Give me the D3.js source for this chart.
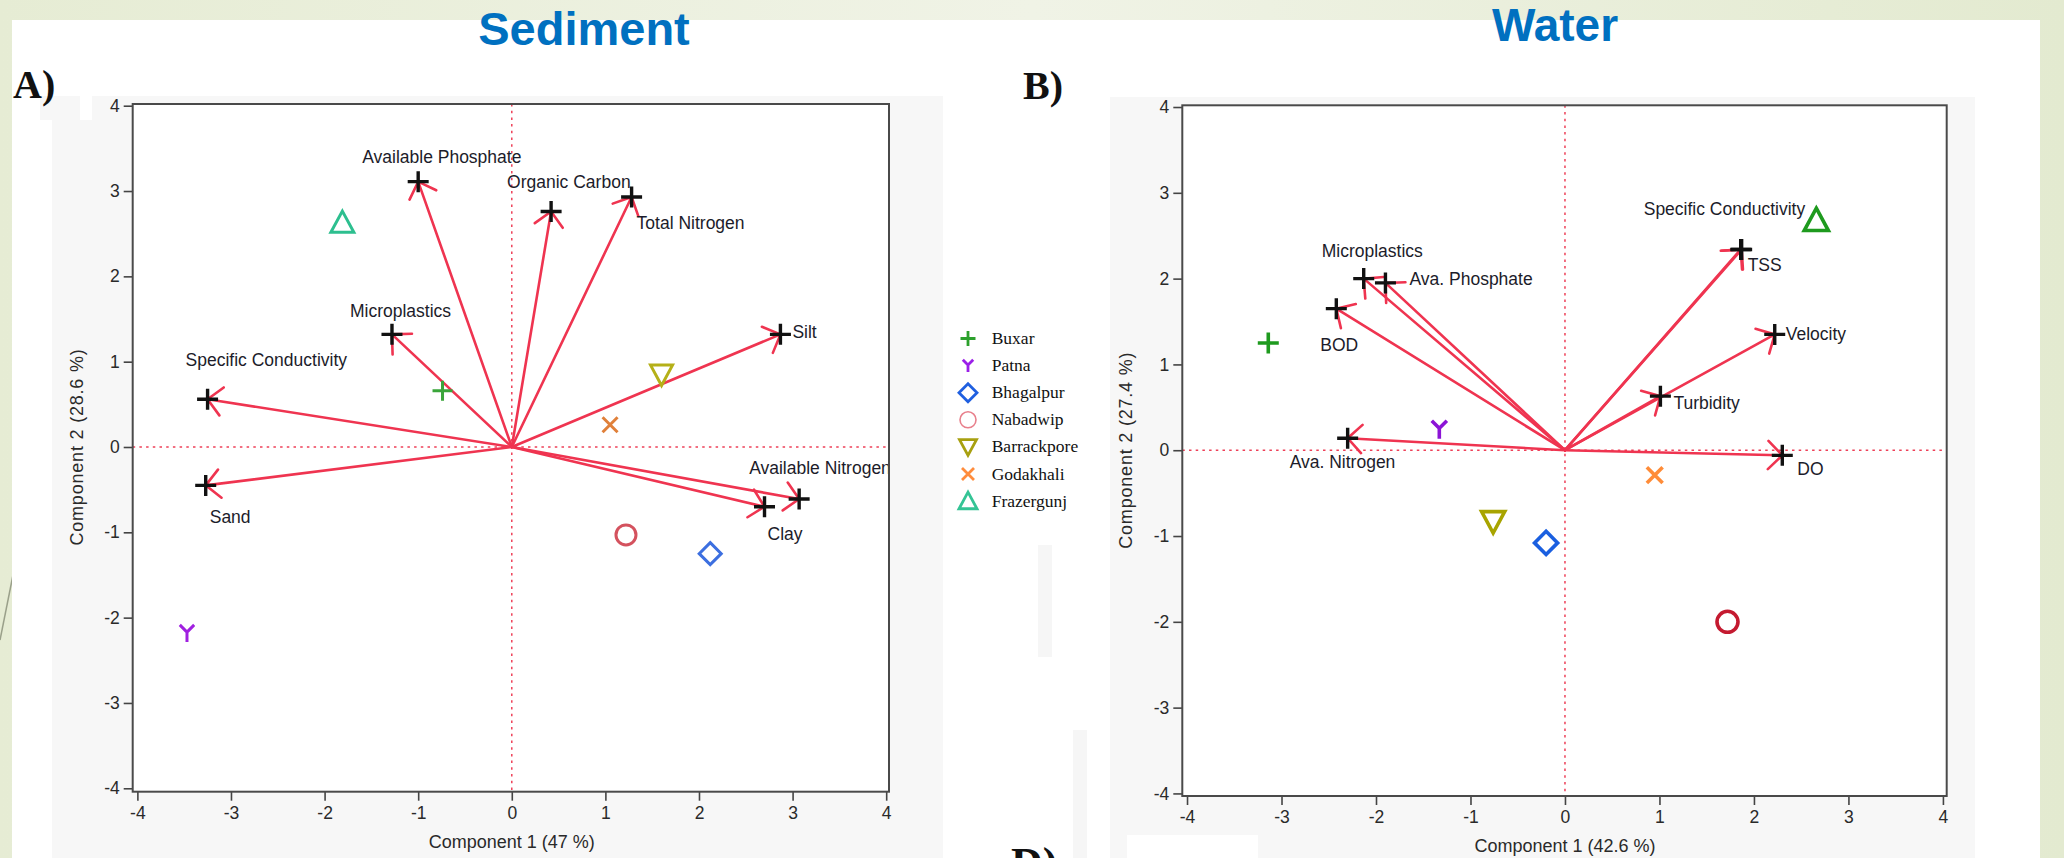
<!DOCTYPE html>
<html>
<head>
<meta charset="utf-8">
<script src="https://cdn.jsdelivr.net/npm/d3@7/dist/d3.min.js"></script>
<style>
  html, body { margin: 0; padding: 0; background: #e8eed9; overflow: hidden; }
  svg { display: block; }
  .tick text { font-family: "Liberation Sans", Arial, sans-serif; font-size: 17.5px; fill: #2a2a2a; }
  .tick line { stroke: #444; stroke-width: 1.6; }
</style>
</head>
<body>
<div id="chart"></div>
<script>
// sampling sites (shared by both panels)
const sites = ["Buxar", "Patna", "Bhagalpur", "Nabadwip", "Barrackpore", "Godakhali", "Frazergunj"];
const siteShapes = ["plus", "y", "diamond", "circle", "down", "cross", "up"];

// A) sediment PCA
const sedimentVars = ["Available Phosphate", "Organic Carbon", "Total Nitrogen", "Microplastics", "Silt",
                      "Specific Conductivity", "Sand", "Clay", "Available Nitrogen"];
const sedimentVarX = [-1.00, 0.42, 1.28, -1.28, 2.87, -3.25, -3.27, 2.70, 3.07];
const sedimentVarY = [3.11, 2.76, 2.93, 1.32, 1.32, 0.56, -0.45, -0.70, -0.61];
const sedimentSiteX = [-0.74, -3.47, 2.12, 1.22, 1.60, 1.05, -1.81];
const sedimentSiteY = [0.66, -2.18, -1.25, -1.03, 0.85, 0.26, 2.63];
const sedimentVariance = [47, 28.6];

// B) water PCA
const waterVars = ["Microplastics", "Ava. Phosphate", "BOD", "Ava. Nitrogen", "Specific Conductivity",
                   "TSS", "Velocity", "Turbidity", "DO"];
const waterVarX = [-2.13, -1.90, -2.42, -2.30, 1.86, 1.87, 2.22, 1.01, 2.30];
const waterVarY = [2.00, 1.95, 1.65, 0.14, 2.34, 2.34, 1.35, 0.63, -0.06];
const waterSiteX = [-3.14, -1.33, -0.20, 1.72, -0.76, 0.95, 2.66];
const waterSiteY = [1.25, 0.245, -1.08, -2.00, -0.83, -0.29, 2.68];
const waterVariance = [42.6, 27.4];

const axisTicks = [-4, -3, -2, -1, 0, 1, 2, 3, 4];

// layout / style (pixel offsets of the variable labels from the arrow tips)
const sedimentLabelOffsets = [[-56, -19], [-44, -24], [5, 32], [-42, -17], [12, 4], [-22, -33], [4, 38], [3, 33], [-50, -25]];
const waterLabelOffsets = [[-42, -22], [24, 2], [-16, 42], [-58, 30], [-97, -34], [6, 22], [11, 6], [13, 13], [15, 20]];
const sedimentColours = ["#3aa53a", "#a020e0", "#3c6fe0", "#d4525e", "#b5b018", "#e0803a", "#2dbf8f"];
const waterColours = ["#1e9a1e", "#8c14d6", "#1a5fe0", "#c41a30", "#a8a400", "#ff8c38", "#1e9a1e"];
const legendColours = ["#2ca02c", "#9b1fe8", "#1f5fe0", "#e8808c", "#a8a010", "#ff8c3c", "#34c495"];
const markerSize = { plus: 10, y: 9, diamond: 11, circle: 10, down: 11, cross: 7.5, up: 11.5 };
const legendSize = { plus: 7.5, y: 6.5, diamond: 9, circle: 8, down: 8.5, cross: 6, up: 9 };

const W = 2064, H = 858;
const sans = '"Liberation Sans", Arial, sans-serif';
const serif = '"Liberation Serif", "Times New Roman", serif';
const arrowRed = "#ef3450";

const svg = d3.select("#chart").append("svg").attr("width", W).attr("height", H);

// slide background
const defs = svg.append("defs");
const grad = defs.append("linearGradient").attr("id", "band");
grad.append("stop").attr("offset", "0%").attr("stop-color", "#e6ecd4");
grad.append("stop").attr("offset", "50%").attr("stop-color", "#f0f3e6");
grad.append("stop").attr("offset", "100%").attr("stop-color", "#e3ead0");
svg.append("rect").attr("width", W).attr("height", H).attr("fill", "url(#band)");
svg.append("line").attr("x1", 0).attr("y1", 640).attr("x2", 16).attr("y2", 560)
  .attr("stroke", "#9aa08a").attr("stroke-width", 1.5);
svg.append("rect").attr("x", 12).attr("y", 20).attr("width", 2028).attr("height", H - 20).attr("fill", "#fff");

// grey picture panels
svg.append("rect").attr("x", 52).attr("y", 96).attr("width", 891).attr("height", H - 96).attr("fill", "#f7f7f7");
svg.append("rect").attr("x", 40).attr("y", 96).attr("width", 14).attr("height", 24).attr("fill", "#f7f7f7");
svg.append("rect").attr("x", 80).attr("y", 96).attr("width", 12).attr("height", 24).attr("fill", "#fff");
svg.append("rect").attr("x", 1110).attr("y", 97).attr("width", 865).attr("height", H - 97).attr("fill", "#f7f7f7");
svg.append("rect").attr("x", 1127).attr("y", 835).attr("width", 131).attr("height", 30).attr("fill", "#fff");
svg.append("rect").attr("x", 1038).attr("y", 545).attr("width", 14).attr("height", 112).attr("fill", "#f6f6f6");
svg.append("rect").attr("x", 1073).attr("y", 730).attr("width", 14).attr("height", 130).attr("fill", "#f6f6f6");

// titles
svg.append("text").attr("x", 584).attr("y", 45).attr("text-anchor", "middle")
  .attr("font-family", sans).attr("font-weight", "bold").attr("font-size", 47).attr("fill", "#0070c0")
  .text("Sediment");
svg.append("text").attr("x", 1555).attr("y", 41).attr("text-anchor", "middle")
  .attr("font-family", sans).attr("font-weight", "bold").attr("font-size", 46).attr("fill", "#0070c0")
  .text("Water");
svg.append("text").attr("x", 13).attr("y", 98).attr("font-family", serif).attr("font-weight", "bold")
  .attr("font-size", 40).attr("fill", "#111").text("A)");
svg.append("text").attr("x", 1023).attr("y", 99).attr("font-family", serif).attr("font-weight", "bold")
  .attr("font-size", 40).attr("fill", "#111").text("B)");
svg.append("text").attr("x", 1011).attr("y", 878).attr("font-family", serif).attr("font-weight", "bold")
  .attr("font-size", 44).attr("fill", "#111").text("D)");

function shapePath(kind, s) {
  switch (kind) {
    case "plus": return `M${-s},0H${s}M0,${-s}V${s}`;
    case "y": return `M0,${-0.1 * s}L${-0.8 * s},${-0.9 * s}M0,${-0.1 * s}L${0.8 * s},${-0.9 * s}M0,${-0.1 * s}V${s}`;
    case "diamond": return `M0,${-s}L${s},0L0,${s}L${-s},0Z`;
    case "circle": {
      const p = d3.path();
      p.arc(0, 0, s, 0, 2 * Math.PI);
      return p.toString();
    }
    case "down": return `M${-s},${-0.85 * s}H${s}L0,${s}Z`;
    case "cross": return `M${-s},${-s}L${s},${s}M${s},${-s}L${-s},${s}`;
    case "up": return `M0,${-s}L${s},${0.85 * s}H${-s}Z`;
  }
}

function drawBiplot(o) {
  const x = d3.scaleLinear().domain(o.xDomain).range([o.frame.x0, o.frame.x1]);
  const y = d3.scaleLinear().domain(o.yDomain).range([o.frame.y1, o.frame.y0]);
  const g = svg.append("g");
  const fw = o.frame.x1 - o.frame.x0, fh = o.frame.y1 - o.frame.y0;

  g.append("rect").attr("x", o.frame.x0).attr("y", o.frame.y0).attr("width", fw).attr("height", fh)
    .attr("fill", "#fff");

  const clipId = "clip-" + o.id;
  defs.append("clipPath").attr("id", clipId).append("rect")
    .attr("x", o.frame.x0).attr("y", o.frame.y0).attr("width", fw).attr("height", fh);

  // axes (plain hyphen for negatives, as in the original)
  const fmt = d => String(d);
  g.append("g").attr("transform", `translate(${o.frame.x0},0)`)
    .call(d3.axisLeft(y).tickValues(axisTicks).tickSize(9).tickPadding(4).tickFormat(fmt))
    .call(a => a.select(".domain").remove());
  g.append("g").attr("transform", `translate(0,${o.frame.y1})`)
    .call(d3.axisBottom(x).tickValues(axisTicks).tickSize(9).tickPadding(6).tickFormat(fmt))
    .call(a => a.select(".domain").remove());

  g.append("text").attr("x", x(0)).attr("y", o.frame.y1 + 56).attr("text-anchor", "middle")
    .attr("font-family", sans).attr("font-size", 18).attr("fill", "#2a2a2a")
    .text(`Component 1  (${o.variance[0]} %)`);
  g.append("text").attr("transform", `translate(${o.frame.x0 - 50},${y(0)}) rotate(-90)`)
    .attr("text-anchor", "middle").attr("font-family", sans).attr("font-size", 18)
    .attr("letter-spacing", 0.8).attr("fill", "#2a2a2a")
    .text(`Component 2  (${o.variance[1]} %)`);

  const inner = g.append("g").attr("clip-path", `url(#${clipId})`);

  // zero reference lines
  inner.append("line").attr("x1", x(0)).attr("x2", x(0)).attr("y1", o.frame.y0).attr("y2", o.frame.y1)
    .attr("stroke", "#ee4058").attr("stroke-width", 1.5).attr("stroke-dasharray", "2.5,4.2");
  inner.append("line").attr("x1", o.frame.x0).attr("x2", o.frame.x1).attr("y1", y(0)).attr("y2", y(0))
    .attr("stroke", "#ee4058").attr("stroke-width", 1.5).attr("stroke-dasharray", "2.5,4.2");

  const vars = o.vars.map((name, i) => ({ name, vx: o.varX[i], vy: o.varY[i], off: o.labelOffsets[i] }));

  // loading arrows
  const head = 20, ang = Math.PI / 4;
  inner.selectAll(".arrow").data(vars).enter().append("path")
    .attr("class", "arrow")
    .attr("fill", "none").attr("stroke", arrowRed).attr("stroke-width", 2.6).attr("stroke-linecap", "round")
    .attr("d", d => {
      const x0 = x(0), y0 = y(0), x1 = x(d.vx), y1 = y(d.vy);
      const a = Math.atan2(y1 - y0, x1 - x0);
      const ax = x1 - head * Math.cos(a - ang), ay = y1 - head * Math.sin(a - ang);
      const bx = x1 - head * Math.cos(a + ang), by = y1 - head * Math.sin(a + ang);
      return `M${x0},${y0}L${x1},${y1}M${ax},${ay}L${x1},${y1}L${bx},${by}`;
    });

  // sites
  const pts = sites.map((s, i) => ({ s, shape: siteShapes[i], px: o.siteX[i], py: o.siteY[i], c: o.colours[i] }));
  inner.selectAll(".site").data(pts).enter().append("path")
    .attr("class", "site")
    .attr("transform", d => `translate(${x(d.px)},${y(d.py)})`)
    .attr("d", d => shapePath(d.shape, markerSize[d.shape] * o.markerScale))
    .attr("fill", "none").attr("stroke", d => d.c).attr("stroke-width", o.markerStroke)
    .attr("stroke-linejoin", "miter");

  // arrow tips
  inner.selectAll(".tip").data(vars).enter().append("path")
    .attr("class", "tip")
    .attr("transform", d => `translate(${x(d.vx)},${y(d.vy)})`)
    .attr("d", shapePath("plus", 10.5))
    .attr("stroke", "#111").attr("stroke-width", 3.4);

  inner.selectAll(".vlabel").data(vars).enter().append("text")
    .attr("class", "vlabel")
    .attr("x", d => x(d.vx) + d.off[0]).attr("y", d => y(d.vy) + d.off[1])
    .attr("font-family", sans).attr("font-size", 17.5).attr("fill", "#1c1c2a")
    .text(d => d.name);

  g.append("rect").attr("x", o.frame.x0).attr("y", o.frame.y0).attr("width", fw).attr("height", fh)
    .attr("fill", "none").attr("stroke", "#4a4a4a").attr("stroke-width", 2);
}

drawBiplot({
  id: "sed", frame: { x0: 132.7, x1: 889, y0: 104, y1: 791.7 },
  xDomain: [-4.05, 4.03], yDomain: [-4.04, 4.02],
  vars: sedimentVars, varX: sedimentVarX, varY: sedimentVarY, labelOffsets: sedimentLabelOffsets,
  siteX: sedimentSiteX, siteY: sedimentSiteY, colours: sedimentColours,
  variance: sedimentVariance, markerScale: 1, markerStroke: 3
});

drawBiplot({
  id: "wat", frame: { x0: 1182.3, x1: 1946.7, y0: 105.3, y1: 796 },
  xDomain: [-4.05, 4.04], yDomain: [-4.03, 4.02],
  vars: waterVars, varX: waterVarX, varY: waterVarY, labelOffsets: waterLabelOffsets,
  siteX: waterSiteX, siteY: waterSiteY, colours: waterColours,
  variance: waterVariance, markerScale: 1.05, markerStroke: 3.6
});

// legend between the panels
const legend = svg.append("g").attr("class", "legend");
const lg = legend.selectAll(".item").data(sites).enter().append("g")
  .attr("class", "item")
  .attr("transform", (d, i) => `translate(968,${344 + i * 27.1})`);
lg.append("path")
  .attr("transform", "translate(0,-5.5)")
  .attr("d", (d, i) => shapePath(siteShapes[i], legendSize[siteShapes[i]]))
  .attr("fill", "none").attr("stroke", (d, i) => legendColours[i])
  .attr("stroke-width", (d, i) => siteShapes[i] === "circle" ? 1.6 : 2.8);
lg.append("text").attr("x", 23.7).attr("y", 0)
  .attr("font-family", serif).attr("font-size", 17.5).attr("fill", "#111")
  .text(d => d);
</script>
</body>
</html>
